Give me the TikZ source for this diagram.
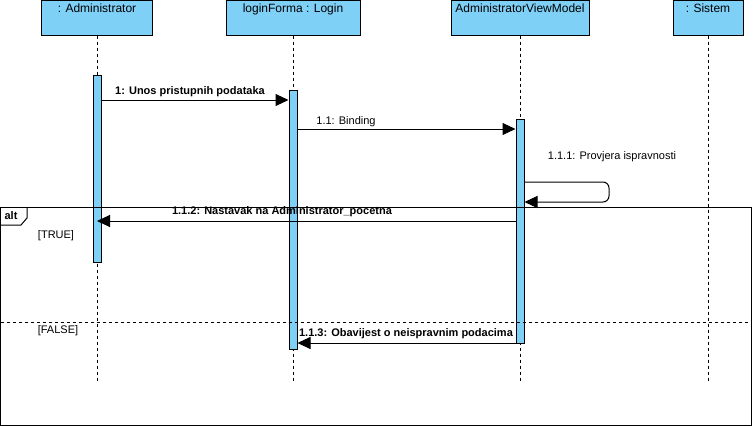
\documentclass[tikz,border=0pt]{standalone}
\usepackage{fontspec}
\setmainfont{Liberation Sans}
\usetikzlibrary{arrows.meta}

\definecolor{actblue}{RGB}{126,208,246}

\tikzset{
  header/.style={draw, fill=actblue, line width=1pt, minimum height=35pt,
    inner xsep=0pt, inner ysep=3pt, text height=9pt, text depth=20pt,
    font=\fontsize{12}{14}\selectfont},
  activation/.style={draw, fill=actblue, line width=1pt, minimum width=8pt, inner sep=0pt},
  lifeline/.style={line width=1pt, dash pattern=on 3pt off 3pt},
  msg/.style={line width=1pt, -{Triangle[length=13pt,width=12pt]}},
  msgtext/.style={inner sep=0pt, font=\fontsize{11}{13}\selectfont},
  msgbold/.style={inner sep=0pt, font=\fontsize{11}{13}\selectfont\bfseries},
}

\begin{document}
\begin{tikzpicture}[x=1pt, y=-1pt]

  \useasboundingbox (0,0) rectangle (753,426);

  % Lifeline end
  \def\lifeend{383}
  \coordinate (lend) at (0,\lifeend);

  % Message rows
  \coordinate (y1) at (0,100);
  \coordinate (y11) at (0,129);
  \coordinate (y111a) at (0,182);
  \coordinate (y111b) at (0,202);
  \coordinate (y112) at (0,221);
  \coordinate (y113) at (0,343);

  % Headers
  \node[header, minimum width=111pt] (admin) at (97,17.5) {: Administrator};
  \node[header, minimum width=134pt] (login) at (293,17.5) {loginForma : Login};
  \node[header, minimum width=138pt] (viewmodel) at (520,17.5) {AdministratorViewModel};
  \node[header, minimum width=70pt] (sistem) at (708,17.5) {: Sistem};

  % Lifelines
  \draw[lifeline] (admin.south) -- (admin.south |- lend);
  \draw[lifeline] (login.south) -- (login.south |- lend);
  \draw[lifeline] (viewmodel.south) -- (viewmodel.south |- lend);
  \draw[lifeline] (sistem.south) -- (sistem.south |- lend);

  % Activations
  \node[activation, minimum height=187pt] (actA) at (97,168.5) {};
  \node[activation, minimum height=259pt] (actL) at (293,219.5) {};
  \node[activation, minimum height=224pt] (actV) at (520,231) {};

  % Frame alt
  \draw[line width=1pt] (0.5,207) rectangle (751.5,425);
  \draw[line width=1pt] (0.5,225) -- (21,225) -- (27,218) -- (27,207);
  \node[msgbold] (alt) at (11,216) {alt};
  \draw[lifeline] (0.5,322) -- (751.5,322);
  \node[msgtext] (guardtrue) at (56,236) {[TRUE]};
  \node[msgtext] (guardfalse) at (58,331) {[FALSE]};

  % Messages
  % 1
  \draw[msg] (actA.east |- y1) -- (actL.west |- y1);
  \node[msgbold] (m1) at (190,92) {1: Unos pristupnih podataka};

  % 1.1
  \draw[msg] (actL.east |- y11) -- (actV.west |- y11);
  \node[msgtext] (m11) at (346,122) {1.1: Binding};

  % 1.1.1
  \draw[msg, rounded corners=6pt] (actV.east |- y111a) -- (609,182) -- (609,202) -- (actV.east |- y111b);
  \node[msgtext] (m111) at (612,157) {1.1.1: Provjera ispravnosti};

  % 1.1.2
  \draw[msg] (actV.west |- y112) -- (actA.center |- y112);
  \node[msgbold] (m112) at (282,212) {1.1.2: Nastavak na Administrator\_pocetna};

  % 1.1.3
  \draw[msg] (actV.west |- y113) -- (actL.east |- y113);
  \node[msgbold] (m113) at (406,334) {1.1.3: Obavijest o neispravnim podacima};

\end{tikzpicture}
\end{document}
